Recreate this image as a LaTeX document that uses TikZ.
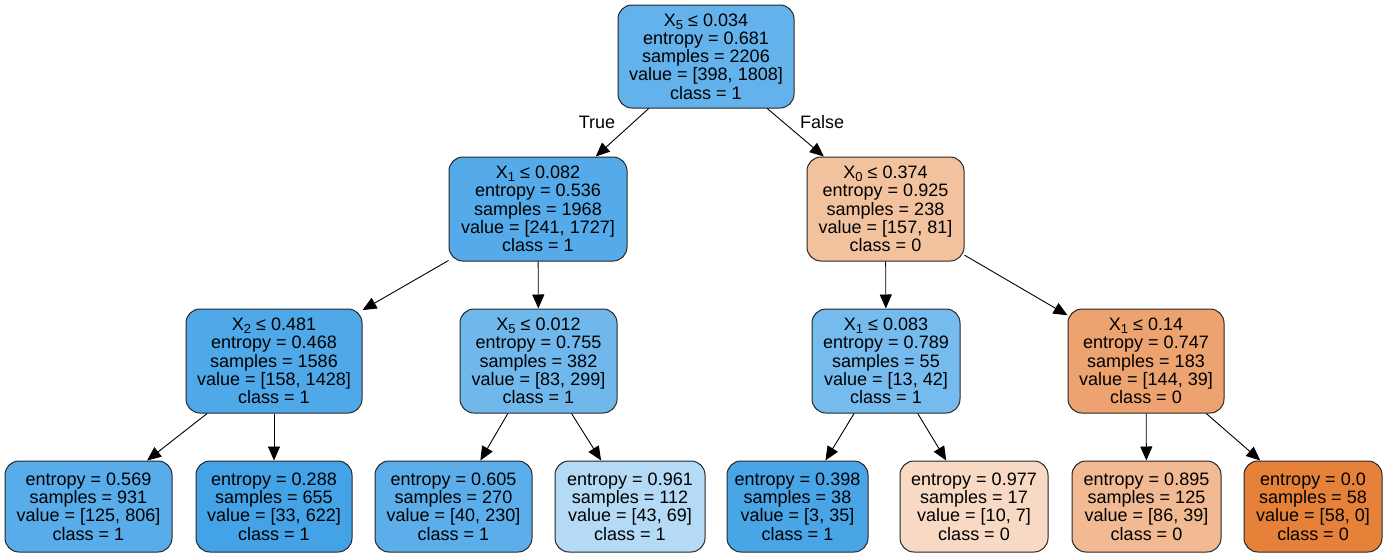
\documentclass[tikz,border=0pt]{standalone}
\usepackage{fontspec}
\setmainfont{Liberation Sans}
\usetikzlibrary{arrows.meta}
\definecolor{c0}{RGB}{229,129,57}
\definecolor{cRoot}{RGB}{100,178,235}
\definecolor{cA}{RGB}{85,171,233}
\definecolor{cB}{RGB}{242,194,159}
\definecolor{cC}{RGB}{79,168,232}
\definecolor{cD}{RGB}{112,184,236}
\definecolor{cE}{RGB}{118,187,237}
\definecolor{cF}{RGB}{236,163,111}
\definecolor{cL1}{RGB}{88,172,233}
\definecolor{cL2}{RGB}{68,162,230}
\definecolor{cL3}{RGB}{91,174,234}
\definecolor{cL4}{RGB}{180,218,245}
\definecolor{cL5}{RGB}{74,165,231}
\definecolor{cL6}{RGB}{247,217,196}
\definecolor{cL7}{RGB}{241,186,147}
\newcommand{\sbs}[1]{\raisebox{-3pt}{\fontsize{13}{13}\selectfont #1}}
\tikzstyle{split} = [rectangle, draw=black!85, line width=1pt, rounded corners=14pt,
    align=center, minimum height=104pt, inner sep=0pt,
    font=\fontsize{18}{18.3}\selectfont]
\tikzstyle{leaf} = [split, minimum height=91pt]
\tikzstyle{line} = [draw, line width=0.9pt, -{Triangle[length=14pt,width=12pt]}]

\begin{document}
\begin{tikzpicture}[x=1pt, y=-1pt]
		\useasboundingbox (0,0) rectangle (1386,557);
		\node [split, fill=cRoot, minimum width=176pt, minimum height=103pt] (root) at (706,56.5) {X\sbs{5} ≤ 0.034\\entropy = 0.681\\samples = 2206\\value = [398, 1808]\\class = 1};
		\node [split, fill=cA, minimum width=178pt] (x1a) at (538,209) {X\sbs{1} ≤ 0.082\\entropy = 0.536\\samples = 1968\\value = [241, 1727]\\class = 1};
		\node [split, fill=cB, minimum width=157pt] (x0) at (885.5,209) {X\sbs{0} ≤ 0.374\\entropy = 0.925\\samples = 238\\value = [157, 81]\\class = 0};
		\node [split, fill=cC, minimum width=176pt] (x2) at (274,361) {X\sbs{2} ≤ 0.481\\entropy = 0.468\\samples = 1586\\value = [158, 1428]\\class = 1};
		\node [split, fill=cD, minimum width=157pt] (x5) at (538.5,361) {X\sbs{5} ≤ 0.012\\entropy = 0.755\\samples = 382\\value = [83, 299]\\class = 1};
		\node [split, fill=cE, minimum width=148pt] (x1b) at (886,361) {X\sbs{1} ≤ 0.083\\entropy = 0.789\\samples = 55\\value = [13, 42]\\class = 1};
		\node [split, fill=cF, minimum width=156pt] (x1c) at (1146,361) {X\sbs{1} ≤ 0.14\\entropy = 0.747\\samples = 183\\value = [144, 39]\\class = 0};
		
		\node [leaf, fill=cL1, minimum width=167pt] (leaf1) at (88.5,506.5) {entropy = 0.569\\samples = 931\\value = [125, 806]\\class = 1};
		\node [leaf, fill=cL2, minimum width=156pt] (leaf2) at (274,506.5) {entropy = 0.288\\samples = 655\\value = [33, 622]\\class = 1};
		\node [leaf, fill=cL3, minimum width=157pt] (leaf3) at (453.5,506.5) {entropy = 0.605\\samples = 270\\value = [40, 230]\\class = 1};
		\node [leaf, fill=cL4, minimum width=150pt] (leaf4) at (630,506.5) {entropy = 0.961\\samples = 112\\value = [43, 69]\\class = 1};
		\node [leaf, fill=cL5, minimum width=141pt] (leaf5) at (797.5,506.5) {entropy = 0.398\\samples = 38\\value = [3, 35]\\class = 1};
		\node [leaf, fill=cL6, minimum width=148pt] (leaf6) at (974,506.5) {entropy = 0.977\\samples = 17\\value = [10, 7]\\class = 0};
		\node [leaf, fill=cL7, minimum width=149pt] (leaf7) at (1146.5,506.5) {entropy = 0.895\\samples = 125\\value = [86, 39]\\class = 0};
		\node [leaf, fill=c0, minimum width=138pt] (leaf8) at (1313,506.5) {entropy = 0.0\\samples = 58\\value = [58, 0]\\class = 0};
		
		\node [font=\fontsize{18}{18.3}\selectfont] (true) at (597,122) {True};
		\node [font=\fontsize{18}{18.3}\selectfont] (false) at (822,122) {False};
		
		\path [line] (root) -- (x1a);
		\path [line] (root) -- (x0);
		\path [line] (x1a) -- (x2);
		\path [line] (x1a) -- (x5);
		\path [line] (x0) -- (x1b);
		\path [line] (x0) -- (x1c);
		\path [line] (x2) -- (leaf1);
		\path [line] (x2) -- (leaf2);
		\path [line] (x5) -- (leaf3);
		\path [line] (x5) -- (leaf4);
		\path [line] (x1b) -- (leaf5);
		\path [line] (x1b) -- (leaf6);
		\path [line] (x1c) -- (leaf7);
		\path [line] (x1c) -- (leaf8);
	\end{tikzpicture}
\end{document}
